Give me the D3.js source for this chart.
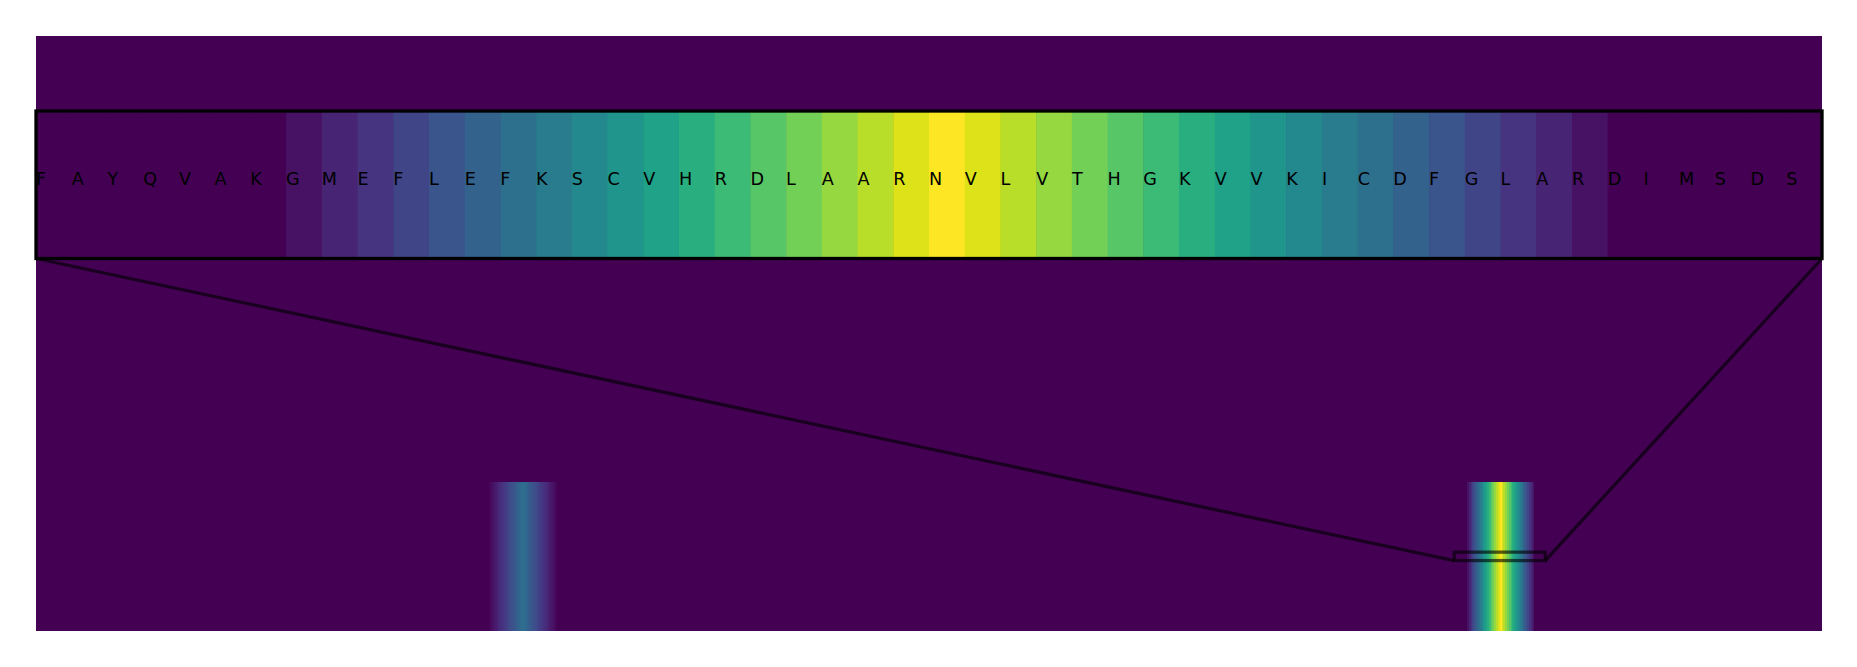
<!DOCTYPE html>
<html><head><meta charset="utf-8">
<script src="https://cdn.jsdelivr.net/npm/d3@7/dist/d3.min.js"></script>
<style>html,body{margin:0;padding:0;background:#fff;overflow:hidden}</style>
</head><body>
<svg id="chart" width="1857" height="667"></svg>
<script>
// ---- data ----
const sequenceLength = 981;       // residues (columns of the map)
const mapRows = 4;                // rows of the map
const signalRow = 3;              // row holding the signal
const peakAStart = 249;           // first column of weaker peak
const peakAValues = [0.017,0.036,0.055,0.074,0.093,0.112,0.131,0.150,0.169,0.188,0.207,0.227,0.246,0.265,0.284,0.303,0.322,0.341,0.360,0.341,0.322,0.303,0.284,0.265,0.246,0.227,0.207,0.188,0.169,0.150,0.131,0.112,0.093,0.074,0.055,0.036,0.017];
const peakBStart = 786;           // first column of strong peak
const peakBValues = [0.046,0.099,0.152,0.205,0.258,0.311,0.364,0.417,0.470,0.523,0.576,0.629,0.682,0.735,0.788,0.841,0.894,0.947,1.000,0.947,0.894,0.841,0.788,0.735,0.682,0.629,0.576,0.523,0.470,0.417,0.364,0.311,0.258,0.205,0.152,0.099,0.046];
const insetStart = 779;           // first column shown in the zoom
const insetSpan = 50;             // columns shown in the zoom
const insetRowHalf = 0.0283;      // half-height of zoom window (rows)
const insetResidues = ["F","A","Y","Q","V","A","K","G","M","E","F","L","E","F","K","S","C","V","H","R","D","L","A","A","R","N","V","L","V","T","H","G","K","V","V","K","I","C","D","F","G","L","A","R","D","I","M","S","D","S"];

// ---- build signal row from the arrays ----
const signal = new Array(sequenceLength).fill(0);
peakAValues.forEach((v, k) => { signal[peakAStart + k] = v; });
peakBValues.forEach((v, k) => { signal[peakBStart + k] = v; });
const cells = signal.map((v, i) => ({col: i, value: v}));

const color = d3.scaleSequential(d3.interpolateViridis).domain([0, 1]);
const svg = d3.select("#chart");

// ---- main map ----
const x = d3.scaleLinear().domain([0, sequenceLength]).range([36, 1822]);
const y = d3.scaleLinear().domain([0, mapRows]).range([36, 630.7]);

const mainG = svg.append("g");
mainG.append("rect")
  .attr("x", x(0)).attr("y", y(0))
  .attr("width", x(sequenceLength) - x(0)).attr("height", y(mapRows) - y(0))
  .attr("fill", color(0));
mainG.selectAll("rect.cell").data(cells).join("rect")
  .attr("class", "cell")
  .attr("x", d => x(d.col))
  .attr("y", y(signalRow))
  .attr("width", d => Math.min(x(d.col + 1) - x(d.col) + 0.6, x(sequenceLength) - x(d.col)))
  .attr("height", y(signalRow + 1) - y(signalRow))
  .attr("shape-rendering", "crispEdges")
  .attr("fill", d => color(d.value));

// ---- inset scales ----
const xi = d3.scaleLinear().domain([insetStart, insetStart + insetSpan]).range([36, 1822]);
const yi = d3.scaleLinear()
  .domain([signalRow + 0.5 - insetRowHalf, signalRow + 0.5 + insetRowHalf])
  .range([111, 258.5]);

// indicator rectangle
const rx0 = x(insetStart), rx1 = x(insetStart + insetSpan);
const ry0 = y(signalRow + 0.5 - insetRowHalf), ry1 = y(signalRow + 0.5 + insetRowHalf);
svg.append("rect")
  .attr("x", rx0).attr("y", ry0).attr("width", rx1 - rx0).attr("height", ry1 - ry0)
  .attr("fill", "none").attr("stroke", "#000").attr("stroke-opacity", 0.62)
  .attr("stroke-width", 3.3);

// connectors (lower corners)
const [ix0, ix1] = xi.range();
const iyBottom = yi.range()[1];
svg.append("line").attr("x1", ix0).attr("y1", iyBottom).attr("x2", rx0).attr("y2", ry1)
  .attr("stroke", "#000").attr("stroke-opacity", 0.62).attr("stroke-width", 3.3);
svg.append("line").attr("x1", ix1).attr("y1", iyBottom).attr("x2", rx1).attr("y2", ry1)
  .attr("stroke", "#000").attr("stroke-opacity", 0.62).attr("stroke-width", 3.3);

// ---- inset ----
svg.append("defs").append("clipPath").attr("id", "insetClip")
  .append("rect").attr("x", ix0).attr("y", yi.range()[0])
  .attr("width", ix1 - ix0).attr("height", iyBottom - yi.range()[0]);

const insetG = svg.append("g").attr("clip-path", "url(#insetClip)");
const insetCells = cells.filter(d => d.col >= insetStart && d.col < insetStart + insetSpan);
insetG.append("rect")
  .attr("x", ix0).attr("y", yi.range()[0])
  .attr("width", ix1 - ix0).attr("height", iyBottom - yi.range()[0])
  .attr("fill", color(0));
insetG.selectAll("rect.icell").data(insetCells).join("rect")
  .attr("class", "icell")
  .attr("x", d => xi(d.col))
  .attr("y", yi(signalRow))
  .attr("width", d => xi(d.col + 1) - xi(d.col) + 0.5)
  .attr("height", yi(signalRow + 1) - yi(signalRow))
  .attr("fill", d => color(d.value));

insetG.selectAll("text.res").data(insetResidues).join("text")
  .attr("class", "res")
  .attr("x", (r, k) => xi(insetStart + k))
  .attr("y", yi(signalRow + 0.5) + 0.3)
  .attr("font-family", "DejaVu Sans")
  .attr("font-size", 17.6)
  .attr("fill", "#000")
  .text(r => r);

svg.append("rect")
  .attr("x", ix0).attr("y", yi.range()[0])
  .attr("width", ix1 - ix0).attr("height", iyBottom - yi.range()[0])
  .attr("fill", "none").attr("stroke", "#000").attr("stroke-width", 3.3);
</script>
</body></html>
